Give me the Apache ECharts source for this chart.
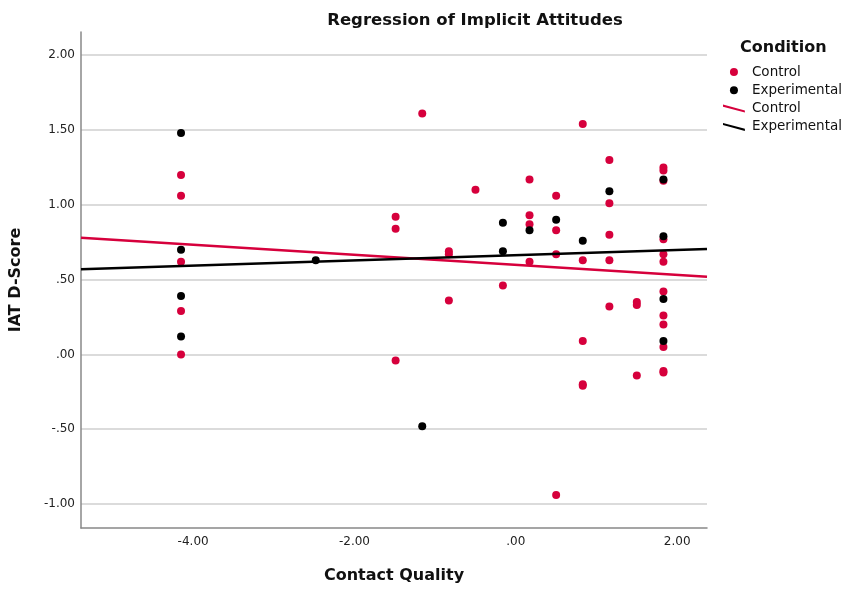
<!DOCTYPE html>
<html>
<head>
<meta charset="utf-8">
<script src="https://cdn.jsdelivr.net/npm/echarts@6.0.0/dist/echarts.min.js"></script>
<style>
  html, body { margin: 0; padding: 0; background: #fff; }
  #chart { width: 847px; height: 589px; }
</style>
</head>
<body>
<div id="chart"></div>
<script>
// punti: Contact Quality (x) / IAT D-Score (y)
const controlX = [
  -4.15, -4.15, -4.15, -4.15, -4.15,
  -1.49, -1.49, -1.49,
  -1.16,
  -0.83, -0.83, -0.83,
  -0.50,
  -0.16,
  0.17, 0.17, 0.17, 0.17,
  0.50, 0.50, 0.50, 0.50,
  0.83, 0.83, 0.83, 0.83, 0.83,
  1.16, 1.16, 1.16, 1.16, 1.16,
  1.50, 1.50, 1.50,
  1.83, 1.83, 1.83, 1.83, 1.83, 1.83, 1.83, 1.83, 1.83, 1.83, 1.83, 1.83
];
const controlY = [
  1.20, 1.06, 0.62, 0.29, 0.00,
  0.92, 0.84, -0.04,
  1.61,
  0.69, 0.67, 0.36,
  1.10,
  0.46,
  1.17, 0.93, 0.87, 0.62,
  1.06, 0.83, 0.67, -0.94,
  1.54, 0.63, 0.09, -0.20, -0.21,
  1.30, 1.01, 0.80, 0.63, 0.32,
  0.35, 0.33, -0.14,
  1.25, 1.23, 1.16, 0.77, 0.67, 0.62, 0.42, 0.26, 0.20, 0.05, -0.11, -0.12
];
const expX = [-4.15, -4.15, -4.15, -4.15, -2.48, -1.16, -0.16, -0.16, 0.17, 0.50, 0.83, 1.16, 1.83, 1.83, 1.83, 1.83];
const expY = [1.48, 0.70, 0.39, 0.12, 0.63, -0.48, 0.88, 0.69, 0.83, 0.90, 0.76, 1.09, 1.17, 0.79, 0.37, 0.09];

// rette di regressione: estremi letti ai bordi dell'area del grafico
const fitX = [-5.39, 2.37];
const fitControlY = [0.78, 0.52];
const fitExpY = [0.57, 0.705];

const xTicks = [-4, -2, 0, 2];
const yTicks = [-1, -0.5, 0, 0.5, 1, 1.5, 2];

const RED = '#D6003C';
const FONT = '"DejaVu Sans", sans-serif';

const pairs = (xs, ys) => xs.map((x, i) => [x, ys[i]]);
// formato SPSS: 0.50 -> .50, -0.50 -> -.50
const spss = v => v.toFixed(2).replace(/^(-?)0\./, '$1.');

const chart = echarts.init(document.getElementById('chart'));
chart.setOption({
  animation: false,
  textStyle: { fontFamily: FONT },
  title: [
    { text: 'Regression of Implicit Attitudes', left: 475, top: 12, textAlign: 'center', padding: 0,
      textStyle: { fontSize: 16.5, fontWeight: 'bold', color: '#111', fontFamily: FONT } },
    { text: 'Condition', left: 740, top: 40, padding: 0,
      textStyle: { fontSize: 16, fontWeight: 'bold', color: '#111', fontFamily: FONT } }
  ],
  legend: {
    orient: 'vertical', left: 723, top: 65, padding: 0,
    itemWidth: 26, itemHeight: 8, itemGap: 4.3,
    textStyle: { fontSize: 13.5, color: '#111', fontFamily: FONT },
    formatter: n => n.replace(' fit', ''),
    data: [
      { name: 'Control', icon: 'circle' },
      { name: 'Experimental', icon: 'circle' },
      { name: 'Control fit', icon: 'path://M0,0 L26,7 L26,9.5 L0,2.5 Z' },
      { name: 'Experimental fit', icon: 'path://M0,0 L26,7 L26,9.5 L0,2.5 Z' }
    ]
  },
  grid: { left: 80, right: 140, top: 32, bottom: 60 },
  xAxis: {
    type: 'value', min: -5.39, max: 2.37,
    name: 'Contact Quality', nameLocation: 'middle', nameGap: 40,
    nameTextStyle: { fontSize: 16, fontWeight: 'bold', color: '#111' },
    axisLine: { show: true, onZero: false, lineStyle: { color: '#888', width: 1.5 } },
    axisTick: { show: false, customValues: xTicks },
    axisLabel: { customValues: xTicks, formatter: spss, fontSize: 12, color: '#222', margin: 8 },
    splitLine: { show: false }
  },
  yAxis: {
    type: 'value', min: -1.16, max: 2.155,
    name: 'IAT D-Score', nameLocation: 'middle', nameGap: 57,
    nameTextStyle: { fontSize: 16, fontWeight: 'bold', color: '#111' },
    axisLine: { show: true, onZero: false, lineStyle: { color: '#888', width: 1.5 } },
    axisTick: { show: false, customValues: yTicks },
    axisLabel: { customValues: yTicks, formatter: spss, fontSize: 12, color: '#222', margin: 6 },
    splitLine: { show: true, lineStyle: { color: '#cfcfcf', width: 1.5 } }
  },
  series: [
    { name: 'Control', type: 'scatter', data: pairs(controlX, controlY),
      symbolSize: 8, itemStyle: { color: RED, opacity: 1 } },
    { name: 'Experimental', type: 'scatter', data: pairs(expX, expY),
      symbolSize: 8, itemStyle: { color: '#000', opacity: 1 } },
    { name: 'Control fit', type: 'line', data: pairs(fitX, fitControlY),
      showSymbol: false, color: RED, lineStyle: { color: RED, width: 2.5 }, z: 5 },
    { name: 'Experimental fit', type: 'line', data: pairs(fitX, fitExpY),
      showSymbol: false, color: '#000', lineStyle: { color: '#000', width: 2.5 }, z: 5 }
  ]
});
</script>
</body>
</html>
